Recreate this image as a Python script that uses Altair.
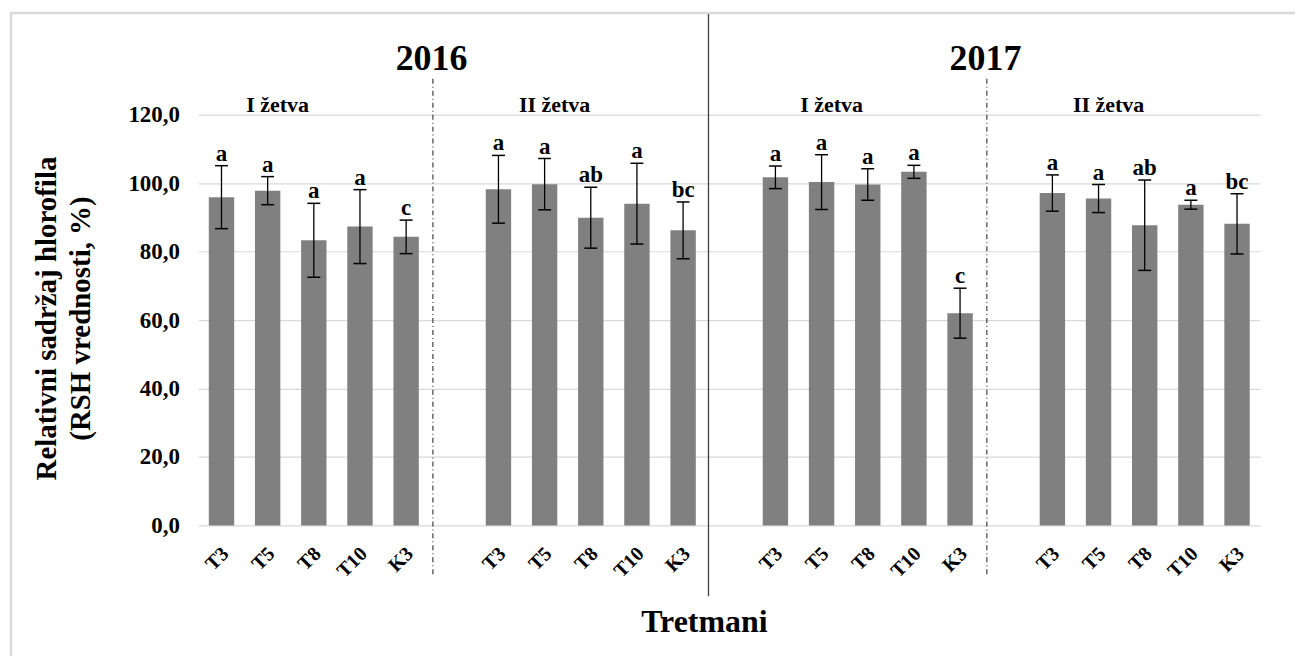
import altair as alt
import pandas as pd

# ---- data ----
treatments = ["T3", "T5", "T8", "T10", "K3"]
group_ids = ["g1", "g2", "g3", "g4"]
harvest_labels = ["I žetva", "II žetva", "I žetva", "II žetva"]
year_labels = ["2016", "2017"]

mean_2016_I = [95.9, 97.8, 83.3, 87.3, 84.3]
err_2016_I = [9.2, 4.1, 10.8, 10.8, 4.9]
letters_2016_I = ["a", "a", "a", "a", "c"]

mean_2016_II = [98.2, 99.7, 89.9, 94.0, 86.2]
err_2016_II = [9.9, 7.5, 8.9, 11.8, 8.3]
letters_2016_II = ["a", "a", "ab", "a", "bc"]

mean_2017_I = [101.7, 100.3, 99.6, 103.3, 62.0]
err_2017_I = [3.3, 8.0, 4.6, 1.9, 7.3]
letters_2017_I = ["a", "a", "a", "a", "c"]

mean_2017_II = [97.1, 95.5, 87.7, 93.7, 88.1]
err_2017_II = [5.3, 4.1, 13.2, 1.3, 8.8]
letters_2017_II = ["a", "a", "ab", "a", "bc"]

y_ticks = [0, 20, 40, 60, 80, 100, 120]

means = [mean_2016_I, mean_2016_II, mean_2017_I, mean_2017_II]
errs = [err_2016_I, err_2016_II, err_2017_I, err_2017_II]
letters = [letters_2016_I, letters_2016_II, letters_2017_I, letters_2017_II]

# ---- build tables ----
slots = []
for gi, g in enumerate(group_ids):
    for t in treatments:
        slots.append(f"{g}|{t}")
    if gi < len(group_ids) - 1:
        slots.append(f"gap{gi + 1}|")

rows = []
for gi, g in enumerate(group_ids):
    for ti, t in enumerate(treatments):
        m = means[gi][ti]
        e = errs[gi][ti]
        rows.append({"slot": f"{g}|{t}", "mean": m, "lo": m - e, "hi": m + e,
                     "letter": letters[gi][ti]})
bars_df = pd.DataFrame(rows)

harvest_df = pd.DataFrame({"slot": [f"{g}|T5" for g in group_ids],
                           "yv": [120] * 4, "label": harvest_labels})
year_df = pd.DataFrame({"slot": ["gap1|", "gap3|"], "label": year_labels})
dotted_df = pd.DataFrame({"slot": ["gap1|", "gap3|"]})
solid_df = pd.DataFrame({"slot": ["gap2|"]})
one_df = pd.DataFrame({"d": [0]})

FONT = "Liberation Serif"

x_scale = alt.Scale(domain=slots, paddingInner=0, paddingOuter=0)
x_axis = alt.Axis(
    labelExpr="split(datum.value, '|')[1]",
    labelAngle=-45, labelAlign="right", labelBaseline="middle",
    labelFont=FONT, labelFontWeight="bold", labelFontSize=20, labelColor="black",
    labelPadding=25, labelOffset=4,
    ticks=False, domain=False, grid=False,
    title="Tretmani", titleFont=FONT, titleFontWeight="bold", titleFontSize=32,
    titleColor="black", titleX=507, titleY=106, titleAlign="center",
    titleBaseline="alphabetic",
)
y_axis = alt.Axis(
    values=y_ticks,
    labelExpr="replace(format(datum.value, '.1f'), '.', ',')",
    labelFont=FONT, labelFontWeight="bold", labelFontSize=23, labelColor="black",
    labelPadding=19, ticks=False, domain=False,
    grid=True, gridColor="#d9d9d9", gridWidth=1.2,
    title=["Relativni sadržaj hlorofila", "(RSH vrednosti, %)"],
    titleFont=FONT, titleFontWeight="bold", titleFontSize=29, titleColor="black",
    titleLineHeight=34, titleAngle=-90, titleX=-152, titleY=204,
    titleAlign="center", titleBaseline="middle",
)
y_scale = alt.Scale(domain=[0, 120], nice=False)


def X(bp=0.5):
    return alt.X("slot:N", scale=x_scale, axis=x_axis, sort=slots, bandPosition=bp)


base = alt.Chart(bars_df)

bars = base.mark_bar(color="#808080", width=alt.RelativeBandSize(0.55)).encode(
    x=X(), y=alt.Y("mean:Q", scale=y_scale, axis=y_axis)
)
err_rule = base.mark_rule(color="black", strokeWidth=1.3).encode(
    x=X(), y=alt.Y("lo:Q", scale=y_scale), y2="hi:Q"
)
cap_hi = base.mark_tick(color="black", thickness=1.5, size=13, opacity=1).encode(
    x=X(), y=alt.Y("hi:Q", scale=y_scale)
)
cap_lo = base.mark_tick(color="black", thickness=1.5, size=13, opacity=1).encode(
    x=X(), y=alt.Y("lo:Q", scale=y_scale)
)
letter_text = base.mark_text(font=FONT, fontWeight="bold", fontSize=23,
                             baseline="alphabetic", dy=-5, color="black").encode(
    x=X(), y=alt.Y("hi:Q", scale=y_scale), text="letter:N"
)
harvest_text = alt.Chart(harvest_df).mark_text(
    font=FONT, fontWeight="bold", fontSize=22, baseline="alphabetic", dy=-3, dx=10,
    color="black").encode(
    x=X(), y=alt.Y("yv:Q", scale=y_scale), text="label:N"
)
year_text = alt.Chart(year_df).mark_text(
    font=FONT, fontWeight="bold", fontSize=36, baseline="alphabetic", color="black"
).encode(x=X(0.05), y=alt.value(-45), text="label:N")

dotted = alt.Chart(dotted_df).mark_rule(
    color="#404040", strokeWidth=1.2, strokeDash=[5, 3, 1, 3]
).encode(x=X(0.08), y=alt.value(-36), y2=alt.value(462))
solid = alt.Chart(solid_df).mark_rule(color="#404040", strokeWidth=1.3).encode(
    x=X(0.05), y=alt.value(-101), y2=alt.value(483)
)
border_top = alt.Chart(one_df).mark_rule(color="#d9d9d9", strokeWidth=2.5).encode(
    x=alt.value(-188), x2=alt.value(1120), y=alt.value(-102)
)
border_left = alt.Chart(one_df).mark_rule(color="#d9d9d9", strokeWidth=2.5).encode(
    x=alt.value(-188), y=alt.value(-103), y2=alt.value(560)
)

chart = alt.layer(
    border_top, border_left, bars, err_rule, cap_hi, cap_lo, letter_text,
    harvest_text, year_text, dotted, solid
).properties(
    width=1065, height=412,
    autosize=alt.AutoSizeParams(type="none"),
    padding={"left": 191, "top": 106, "right": 35, "bottom": 130},
    background="white",
).configure_view(stroke=None)

chart.save("out.html", embed_options={"renderer": "svg", "actions": False})
